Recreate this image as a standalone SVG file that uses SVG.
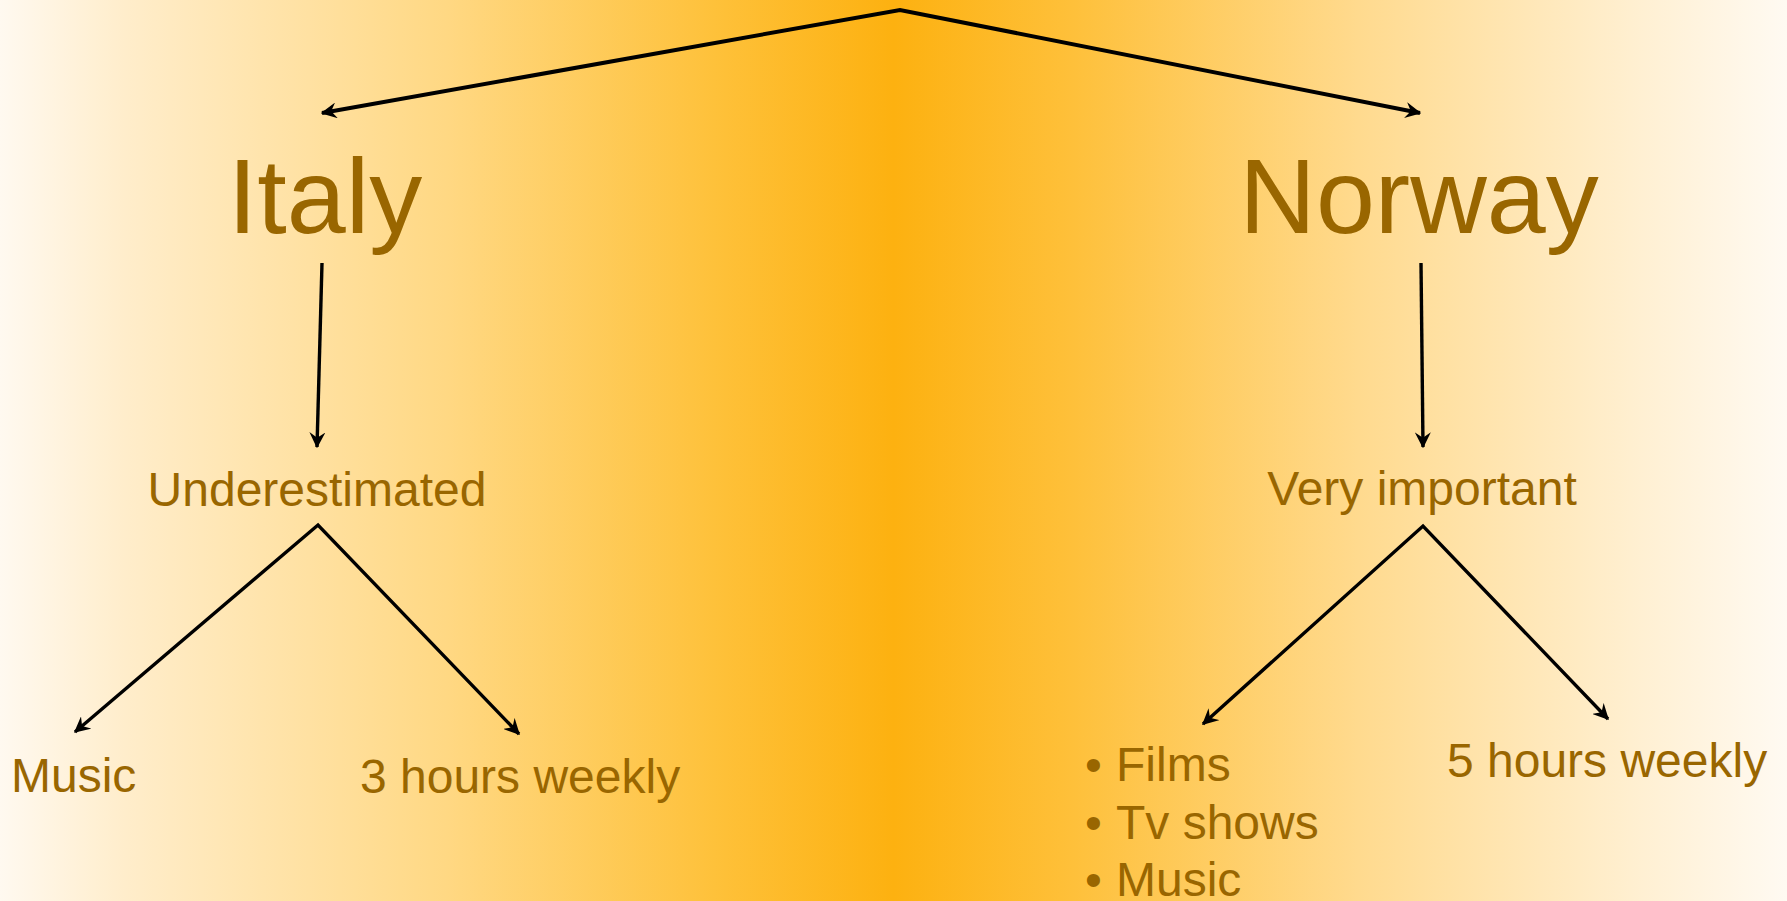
<svg xmlns="http://www.w3.org/2000/svg" width="1787" height="901" viewBox="0 0 1787 901">
<defs>
<linearGradient id="bg" x1="0" y1="0" x2="1" y2="0">
<stop offset="0" stop-color="#FFF9F0"/>
<stop offset="0.07" stop-color="#FFEDCB"/>
<stop offset="0.25" stop-color="#FFD883"/>
<stop offset="0.4" stop-color="#FEC13A"/>
<stop offset="0.5" stop-color="#FDB110"/>
<stop offset="0.6" stop-color="#FEC03A"/>
<stop offset="0.76" stop-color="#FFDA8E"/>
<stop offset="0.92" stop-color="#FFF0D3"/>
<stop offset="1" stop-color="#FFFAF2"/>
</linearGradient>
<marker id="ah" viewBox="0 0 12 12" refX="11" refY="6" markerWidth="16" markerHeight="16" markerUnits="userSpaceOnUse" orient="auto-start-reverse">
<path d="M0,0 L12,6 L0,12 L4,6 z" fill="#000"/>
</marker>
</defs>
<style>
.t{font-family:"Liberation Sans",Arial,sans-serif;fill:#996600}
.big{font-size:106px}
.mid{font-size:48px}
.c{fill:none;stroke:#000;stroke-width:3.4}
.top{stroke-width:4}
</style>
<rect width="1787" height="901" fill="url(#bg)"/>
<g id="connectors">
<polyline class="c top" points="322,113 900,10 1420,113" marker-start="url(#ah)" marker-end="url(#ah)"/>
<line class="c" x1="322" y1="263" x2="317" y2="447" marker-end="url(#ah)"/>
<line class="c" x1="1421" y1="263" x2="1423" y2="447" marker-end="url(#ah)"/>
<polyline class="c" points="75,732 318,525 519,734" marker-start="url(#ah)" marker-end="url(#ah)"/>
<polyline class="c" points="1203,724 1423,526 1608,719" marker-start="url(#ah)" marker-end="url(#ah)"/>
</g>
<g id="italy"><text class="t big" x="325" y="233" text-anchor="middle">Italy</text></g>
<g id="norway"><text class="t big" x="1419" y="233" text-anchor="middle">Norway</text></g>
<g id="underestimated"><text class="t mid" x="317" y="506" text-anchor="middle">Underestimated</text></g>
<g id="very-important"><text class="t mid" x="1422" y="505" text-anchor="middle">Very important</text></g>
<g id="music"><text class="t mid" x="11" y="792">Music</text></g>
<g id="hours3"><text class="t mid" x="360" y="793">3 hours weekly</text></g>
<g id="hours5"><text class="t mid" x="1447" y="777">5 hours weekly</text></g>
<g id="norway-list">
<text class="t mid" y="781"><tspan x="1085">•</tspan><tspan x="1116">Films</tspan></text>
<text class="t mid" y="839"><tspan x="1085">•</tspan><tspan x="1116">Tv shows</tspan></text>
<text class="t mid" y="896"><tspan x="1085">•</tspan><tspan x="1116">Music</tspan></text>
</g>
</svg>
